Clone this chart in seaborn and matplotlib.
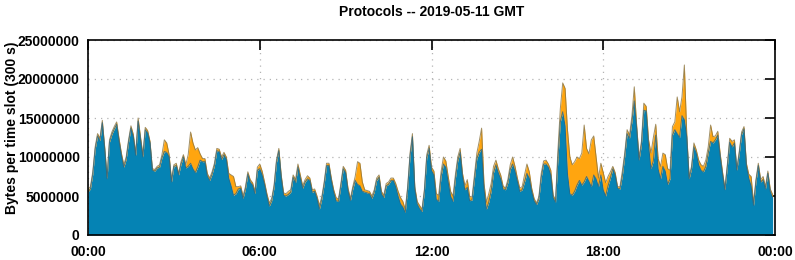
"""Protocols per 5-minute slot, 2019-05-11 (stacked area, gnuplot look)."""

import matplotlib

matplotlib.use("Agg")
import matplotlib.dates as mdates
import matplotlib.pyplot as plt
import numpy as np
import pandas as pd
import seaborn as sns
from matplotlib.ticker import FuncFormatter, MultipleLocator

# bytes per 300 s slot, in millions; one row = one hour (12 slots)
blue_mb = [
    5.55, 5.9, 7.8, 11.0, 12.7, 12.1, 14.4, 11.0, 7.2, 11.9, 12.9, 13.6,
    14.2, 12.1, 10.2, 8.7, 9.7, 11.9, 13.7, 12.6, 10.2, 14.6, 12.3, 10.0,
    13.5, 13.1, 11.8, 8.3, 8.2, 8.6, 8.7, 9.9, 10.7, 10.6, 10.0, 6.8,
    8.8, 8.9, 7.7, 9.1, 10.0, 8.6, 8.8, 9.2, 8.5, 8.0, 8.7, 9.6,
    9.4, 9.4, 7.6, 7.0, 7.8, 8.9, 10.8, 10.7, 9.7, 10.3, 9.7, 7.3,
    6.3, 5.1, 5.3, 5.9, 6.0, 4.7, 5.9, 7.8, 6.8, 6.4, 5.3, 8.3,
    8.5, 7.7, 6.5, 5.0, 3.7, 4.4, 6.1, 9.3, 10.8, 7.4, 5.1, 5.0,
    5.2, 5.5, 7.4, 6.7, 8.7, 7.3, 6.0, 6.8, 7.2, 7.0, 5.5, 5.6,
    4.7, 3.3, 4.6, 6.5, 8.9, 8.9, 7.0, 5.5, 4.4, 4.3, 6.3, 8.5,
    8.0, 5.7, 4.4, 5.9, 7.0, 6.5, 6.3, 5.6, 5.5, 5.4, 5.3, 4.7,
    5.5, 7.0, 7.4, 5.3, 4.8, 6.3, 6.5, 7.0, 7.0, 6.2, 5.0, 4.0,
    3.6, 2.9, 5.9, 10.1, 12.6, 5.9, 4.0, 3.4, 3.0, 5.5, 9.9, 11.1,
    8.3, 7.7, 4.6, 4.3, 7.5, 9.1, 8.7, 6.8, 5.0, 4.3, 7.2, 9.5,
    10.6, 7.5, 5.8, 6.1, 4.4, 4.5, 7.2, 9.8, 10.6, 11.0, 6.0, 3.3,
    4.2, 5.6, 8.0, 9.0, 8.0, 7.2, 5.9, 5.8, 6.7, 8.4, 9.1, 8.2,
    6.9, 5.6, 5.8, 6.8, 7.9, 7.3, 5.6, 4.4, 3.9, 4.6, 7.4, 9.1,
    9.1, 8.7, 7.7, 4.8, 4.2, 9.8, 14.5, 15.8, 14.0, 7.9, 5.3, 5.1,
    5.6, 6.4, 7.0, 6.4, 6.8, 7.5, 6.9, 6.2, 7.7, 7.2, 6.2, 7.7,
    5.8, 5.0, 6.3, 7.3, 8.5, 7.7, 6.0, 5.9, 7.6, 10.1, 13.0, 12.4,
    14.5, 17.2, 13.7, 9.6, 11.6, 16.0, 15.9, 11.5, 8.5, 9.5, 12.8, 8.5,
    7.2, 8.8, 8.2, 6.5, 7.2, 12.8, 13.5, 13.0, 12.5, 15.3, 14.8, 12.6,
    7.2, 8.5, 11.3, 10.5, 9.0, 8.3, 8.1, 8.8, 10.5, 12.0, 11.8, 12.2,
    12.8, 10.1, 7.8, 5.8, 8.7, 11.9, 11.3, 11.8, 8.3, 10.4, 12.9, 13.6,
    8.9, 7.3, 6.3, 3.8, 6.8, 8.9, 6.8, 7.1, 5.9, 7.9, 5.6, 4.8,
]

orange_mb = [
    0.3, 0.3, 0.3, 0.3, 0.3, 0.3, 0.3, 0.3, 0.3, 0.3, 0.3, 0.3,
    0.3, 0.3, 0.3, 0.3, 0.3, 0.3, 0.3, 0.3, 0.3, 0.4, 0.3, 0.3,
    0.3, 0.3, 0.2, 0.2, 0.2, 0.2, 0.3, 0.4, 1.5, 1.2, 0.3, 0.3,
    0.2, 0.3, 0.2, 0.3, 0.3, 0.4, 1.5, 4.0, 3.3, 2.9, 2.5, 0.8,
    0.4, 0.4, 0.3, 0.3, 0.3, 0.3, 0.3, 0.3, 0.3, 0.3, 0.3, 0.6,
    1.4, 2.4, 0.9, 0.3, 0.3, 0.3, 0.3, 0.3, 0.3, 0.3, 0.3, 0.4,
    0.6, 0.5, 0.3, 0.3, 0.4, 0.3, 0.3, 0.3, 0.3, 0.3, 0.3, 0.3,
    0.4, 0.3, 0.3, 0.4, 0.4, 0.4, 0.3, 0.3, 0.4, 0.3, 0.3, 0.3,
    0.3, 0.5, 0.3, 0.3, 0.3, 0.3, 0.3, 0.3, 0.4, 0.3, 0.3, 0.3,
    0.3, 0.3, 0.3, 0.3, 0.5, 2.9, 2.9, 1.2, 0.3, 0.3, 0.3, 0.3,
    0.3, 0.3, 0.3, 0.3, 0.3, 0.3, 0.3, 0.3, 0.3, 0.4, 0.6, 0.8,
    0.7, 0.4, 0.3, 0.4, 0.4, 0.3, 0.3, 0.4, 0.3, 0.3, 0.4, 0.4,
    0.4, 0.5, 0.7, 0.8, 0.6, 0.9, 0.8, 0.7, 0.6, 0.7, 0.5, 0.5,
    0.5, 0.4, 0.5, 1.0, 0.5, 0.4, 0.5, 0.7, 1.4, 2.7, 0.6, 0.9,
    1.1, 1.0, 0.8, 0.6, 0.5, 0.5, 0.4, 0.2, 0.4, 0.6, 0.9, 0.6,
    0.4, 0.4, 0.4, 0.9, 1.2, 0.8, 0.4, 0.3, 0.2, 0.3, 0.5, 0.4,
    0.5, 0.4, 0.6, 0.3, 0.3, 1.1, 1.7, 3.7, 4.8, 5.6, 4.7, 3.9,
    3.8, 3.6, 2.8, 4.1, 7.3, 3.6, 3.5, 6.0, 5.0, 2.8, 1.1, 1.5,
    2.2, 1.7, 1.2, 0.8, 0.3, 0.3, 0.2, 0.3, 0.6, 0.4, 0.5, 0.4,
    0.7, 1.8, 0.4, 0.4, 0.4, 0.9, 0.6, 0.7, 2.0, 3.0, 1.4, 1.3,
    1.6, 1.7, 2.1, 2.0, 1.1, 1.1, 1.0, 4.7, 3.3, 2.4, 7.0, 0.4,
    0.3, 0.3, 0.5, 0.4, 0.6, 0.7, 0.7, 0.8, 0.8, 2.1, 0.8, 0.5,
    0.5, 0.4, 0.3, 0.2, 0.3, 0.5, 0.7, 0.4, 0.2, 0.3, 0.3, 0.3,
    0.3, 0.5, 1.2, 0.3, 0.3, 0.3, 0.3, 0.4, 0.3, 0.3, 0.3, 0.4,
]

DAY = "2019-05-11"
TITLE = "Protocols -- 2019-05-11 GMT"
YLABEL = "Bytes per time slot (300 s)"
BLUE = "#0583b4"
ORANGE = "#ffa50f"

slots = pd.date_range(DAY, periods=len(blue_mb), freq="5min")
blue = np.array(blue_mb) * 1e6
orange = np.array(orange_mb) * 1e6
df = pd.DataFrame({"slot": slots, "blue": blue, "total": blue + orange})

sns.set_theme(style="white")
plt.rcParams["font.family"] = ["Liberation Sans", "DejaVu Sans"]
plt.rcParams["font.weight"] = "bold"
plt.rcParams["text.color"] = "black"
plt.rcParams["axes.labelcolor"] = "black"
plt.rcParams["xtick.color"] = "black"
plt.rcParams["ytick.color"] = "black"

fig = plt.figure(figsize=(7.95, 2.6), dpi=100)
ax = fig.add_axes([88 / 795, 25 / 260, 687 / 795, 195 / 260])

ax.stackplot(df["slot"], df["blue"], orange, colors=[BLUE, ORANGE],
             linewidth=0)
sns.lineplot(data=df, x="slot", y="total", color="#8a7440", linewidth=0.7,
             alpha=0.8, ax=ax)
sns.lineplot(data=df, x="slot", y="blue", color="#2c6480", linewidth=0.7,
             alpha=0.8, ax=ax)

ax.set_xlim(pd.Timestamp(DAY), pd.Timestamp(DAY) + pd.Timedelta(days=1))
ax.set_ylim(0, 25e6)
ax.xaxis.set_major_locator(mdates.HourLocator(byhour=[0, 6, 12, 18]))
ax.xaxis.set_major_formatter(mdates.DateFormatter("%H:%M"))
ax.yaxis.set_major_locator(MultipleLocator(5e6))
ax.yaxis.set_major_formatter(FuncFormatter(lambda v, _: f"{int(v)}"))

ax.set_axisbelow(True)
ax.grid(True, color="#b4b4b4", linestyle=(0, (1, 4)), linewidth=0.9)
for s in ax.spines.values():
    s.set_color("black")
    s.set_linewidth(1.2)
ax.tick_params(axis="both", direction="in", length=7, width=1.2,
               top=True, right=True, colors="black", labelcolor="black",
               labelsize=10)
ax.tick_params(axis="y", pad=6)
ax.tick_params(axis="x", pad=7)
for lab in ax.get_xticklabels() + ax.get_yticklabels():
    lab.set_fontweight("bold")

ax.set_xlabel("")
ax.set_ylabel("")
fig.text((88 + 775) / 2 / 795, 1 - 12 / 260, TITLE, ha="center",
         va="center", fontsize=10, fontweight="bold", color="black")
fig.text(12 / 795, 1 - 128 / 260, YLABEL, ha="center", va="center",
         rotation=90, fontsize=10, fontweight="bold", color="black")

fig.savefig("out.png", dpi=100)
